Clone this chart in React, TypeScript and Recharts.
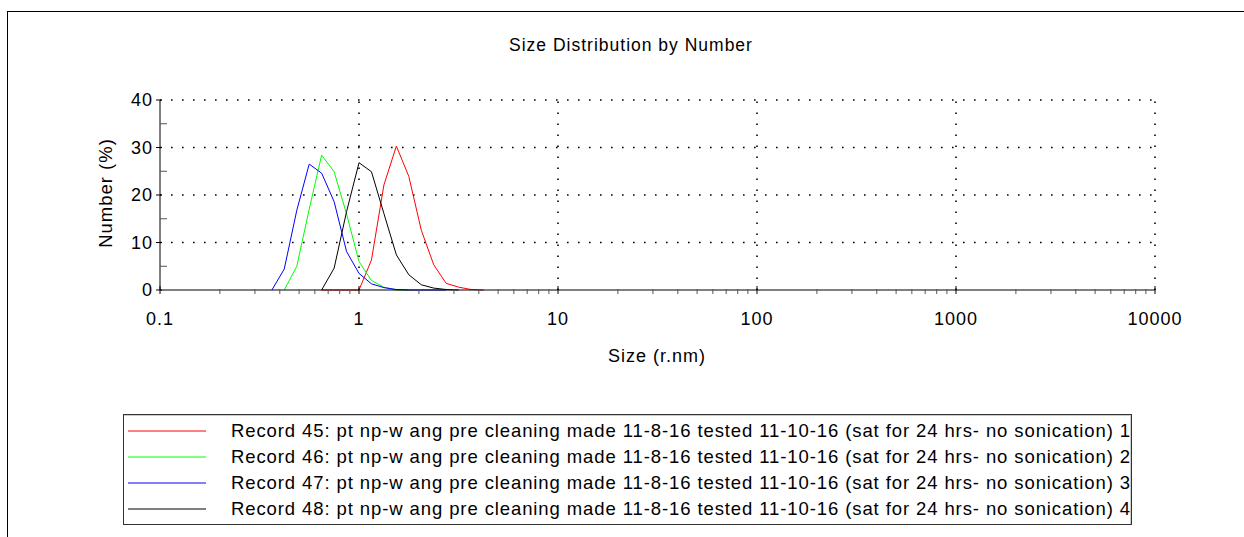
import React from "react";
import { LineChart, Line, XAxis, YAxis, ReferenceLine } from "recharts";

// size bins (r.nm) shared by all records
const sizeBins = [
  0.365, 0.421, 0.487, 0.562, 0.649, 0.75, 0.866, 1.0, 1.155, 1.334, 1.541,
  1.78, 2.056, 2.375, 2.743, 3.168, 3.659, 4.226,
];

const record45 = [null, null, null, null, 0, 0, 0, 0, 6.3, 22.1, 30.3, 23.9, 12.6, 5.3, 1.4, 0.6, 0.1, 0];
const record46 = [null, 0, 5.0, 17.0, 28.4, 24.9, 16.0, 6.0, 2.0, 0.6, 0, 0, null, null, null, null, null, null];
const record47 = [0, 4.4, 16.8, 26.5, 24.6, 18.6, 8.1, 3.5, 1.3, 0.5, 0.1, 0, 0, 0, 0, null, null, null];
const record48 = [null, null, null, null, 0, 4.6, 16.5, 26.8, 24.9, 16.1, 7.4, 3.2, 1.1, 0.4, 0.1, 0, null, null];

const legendLabels = [
  "Record 45: pt np-w ang pre cleaning made 11-8-16 tested 11-10-16 (sat for 24 hrs- no sonication) 1",
  "Record 46: pt np-w ang pre cleaning made 11-8-16 tested 11-10-16 (sat for 24 hrs- no sonication) 2",
  "Record 47: pt np-w ang pre cleaning made 11-8-16 tested 11-10-16 (sat for 24 hrs- no sonication) 3",
  "Record 48: pt np-w ang pre cleaning made 11-8-16 tested 11-10-16 (sat for 24 hrs- no sonication) 4",
];
const colors = ["#ff0000", "#00ff00", "#0000ff", "#000000"];

const xMajorTicks = [0.1, 1, 10, 100, 1000, 10000];
const minorSteps = [2, 3, 4, 5, 6, 7, 8, 9];
const xMinorTicks = xMajorTicks
  .slice(0, -1)
  .flatMap((d) => minorSteps.map((s) => +(d * s).toPrecision(3)));
const xTicks = [...xMajorTicks, ...xMinorTicks].sort((a, b) => a - b);
const xGrid = [1, 10, 100, 1000, 10000];

const yMajorTicks = [0, 10, 20, 30, 40];
const yTicks = [0, 5, 10, 15, 20, 25, 30, 35, 40];
const yGrid = [10, 20, 30, 40];

const FONT = "'Liberation Sans', Arial, sans-serif";
const textStyle = { fontFamily: FONT, fontSize: 18, letterSpacing: 1, fill: "#000" };

const toSeries = (values: (number | null)[]) =>
  values.map((v, i) => ({ size: sizeBins[i], value: v }));

const series = [record45, record46, record47, record48].map(toSeries);
// draw order: red, green, black, blue
const drawOrder = [0, 1, 3, 2];

const XTick = (props: any) => {
  const { x, y, payload } = props;
  const major = xMajorTicks.includes(payload.value);
  return (
    <g>
      <line
        x1={x}
        x2={x}
        y1={major ? y - 4 : y - 1}
        y2={major ? y + 4 : y + 4}
        stroke={major ? "#000" : "#555"}
      />
      {major && (
        <text {...textStyle} x={x} y={y + 29} textAnchor="middle" dominantBaseline="central">
          {String(payload.value)}
        </text>
      )}
    </g>
  );
};

const YTick = (props: any) => {
  const { x, y, payload } = props;
  const major = yMajorTicks.includes(payload.value);
  return (
    <g>
      <line
        x1={major ? x - 4 : x}
        x2={major ? x + 2 : x + 7}
        y1={y}
        y2={y}
        stroke={major ? "#000" : "#555"}
      />
      {major && (
        <text {...textStyle} x={x - 7} y={y} textAnchor="end" dominantBaseline="central">
          {String(payload.value)}
        </text>
      )}
    </g>
  );
};

export default function App() {
  return (
    <div
      style={{
        position: "absolute",
        left: 0,
        top: 0,
        width: 1244,
        height: 537,
        background: "#fff",
        overflow: "hidden",
        fontFamily: FONT,
        color: "#000",
      }}
    >
      {/* outer frame */}
      <div
        style={{
          position: "absolute",
          left: 7,
          top: 11,
          width: 1300,
          height: 600,
          border: "1px solid #000",
        }}
      />
      <div
        style={{
          position: "absolute",
          left: 0,
          top: 34,
          width: 1262,
          textAlign: "center",
          fontSize: 17.5,
          letterSpacing: 1,
          lineHeight: "22px",
        }}
      >
        Size Distribution by Number
      </div>
      <div
        style={{
          position: "absolute",
          left: 106,
          top: 193,
          transform: "translate(-50%, -50%) rotate(-90deg)",
          fontSize: 18.5,
          letterSpacing: 1,
          whiteSpace: "nowrap",
          lineHeight: "22px",
        }}
      >
        Number (%)
      </div>
      <div
        style={{
          position: "absolute",
          left: 557,
          top: 345,
          width: 200,
          textAlign: "center",
          fontSize: 18,
          letterSpacing: 1,
          lineHeight: "22px",
        }}
      >
        Size (r.nm)
      </div>

      <div style={{ position: "absolute", left: 0, top: 0 }}>
        <LineChart
          width={1244}
          height={400}
          margin={{ top: 100, right: 89, left: 100, bottom: 70 }}
        >
          <XAxis
            dataKey="size"
            type="number"
            scale="log"
            domain={[0.1, 10000]}
            allowDataOverflow
            ticks={xTicks}
            interval={0}
            tick={(p: any) => <XTick {...p} />}
            tickLine={false}
            tickSize={0}
            tickMargin={0}
            height={40}
            axisLine={{ stroke: "#000" }}
          />
          <YAxis
            type="number"
            domain={[0, 40]}
            ticks={yTicks}
            interval={0}
            tick={(p: any) => <YTick {...p} />}
            tickLine={false}
            tickSize={0}
            tickMargin={0}
            width={60}
            axisLine={{ stroke: "#000" }}
          />
          {xGrid.map((v) => (
            <ReferenceLine
              key={"gx" + v}
              x={v}
              stroke="#000"
              strokeWidth={1.6}
              strokeDasharray="1.6 9.4"
            />
          ))}
          {yGrid.map((v) => (
            <ReferenceLine
              key={"gy" + v}
              y={v}
              stroke="#000"
              strokeWidth={1.6}
              strokeDasharray="1.6 9.4"
            />
          ))}
          {drawOrder.map((i) => (
            <Line
              key={i}
              data={series[i]}
              dataKey="value"
              stroke={colors[i]}
              strokeWidth={1}
              dot={false}
              activeDot={false}
              type="linear"
              isAnimationActive={false}
            />
          ))}
        </LineChart>
      </div>

      {/* legend */}
      <div
        style={{
          position: "absolute",
          left: 123,
          top: 414,
          width: 1009,
          height: 111,
          boxSizing: "border-box",
          border: "1px solid #333",
          boxShadow: "-1px 1px 0 #ccc inset",
        }}
      >
        {legendLabels.map((label, i) => (
          <div
            key={label}
            style={{
              position: "absolute",
              left: 0,
              top: 5 + i * 26,
              height: 22,
              width: 1005,
            }}
          >
            <svg
              width={90}
              height={22}
              style={{ position: "absolute", left: 0, top: 0 }}
            >
              <line x1={4} x2={82} y1={11} y2={11} stroke={colors[i]} strokeWidth={1} />
            </svg>
            <span
              style={{
                position: "absolute",
                left: 107,
                top: 0,
                fontSize: 18.5,
                letterSpacing: 0.9,
                lineHeight: "22px",
                whiteSpace: "nowrap",
              }}
            >
              {label}
            </span>
          </div>
        ))}
      </div>
    </div>
  );
}
